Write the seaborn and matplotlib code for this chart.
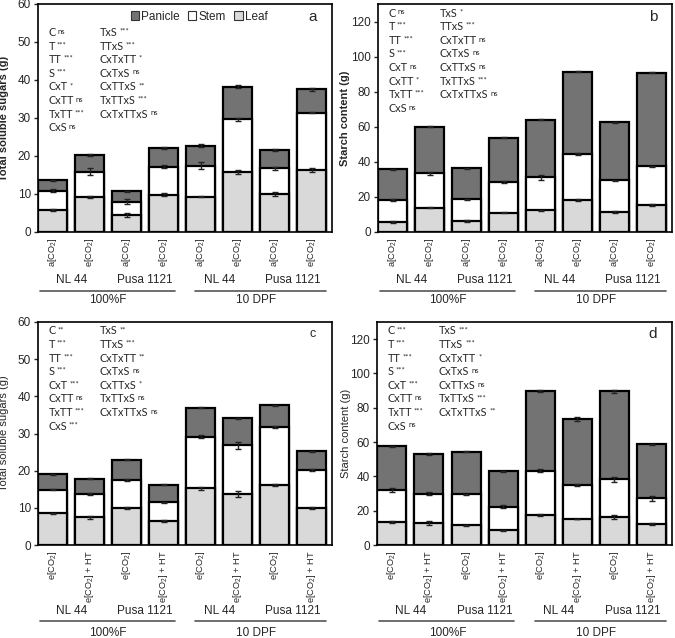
import numpy as np
import pandas as pd
import seaborn as sns
import matplotlib.pyplot as plt
from matplotlib.patches import Patch
from matplotlib.transforms import ScaledTranslation

sns.set_style('ticks')
plt.rcParams['font.family'] = ['Liberation Sans', 'DejaVu Sans']
# tick labels use mathtext for the CO2 subscript
plt.rcParams['mathtext.fontset'] = 'custom'
plt.rcParams['mathtext.rm'] = 'Liberation Sans'
plt.rcParams['mathtext.it'] = 'Liberation Sans:italic'
plt.rcParams['mathtext.bf'] = 'Liberation Sans:bold'

# x labels
labels_top = ['a[CO$_2$]', 'e[CO$_2$]'] * 4
labels_bot = ['e[CO$_2$]', 'e[CO$_2$] + HT'] * 4
cultivars = ['NL 44', 'Pusa 1121', 'NL 44', 'Pusa 1121']
stages = ['100%F', '10 DPF']

# panel a - total soluble sugars
a_leaf = [5.8, 9.3, 4.4, 9.8, 9.3, 15.7, 10.0, 16.3]
a_stem = [5.1, 6.6, 3.6, 7.4, 8.1, 14.0, 6.8, 15.1]
a_pan = [2.7, 4.4, 2.7, 5.0, 5.3, 8.5, 4.8, 6.2]
a_leaf_se = [0.3, 0.3, 0.5, 0.4, 0.2, 0.5, 0.5, 0.5]
a_stem_se = [0.3, 1.0, 0.6, 0.4, 0.9, 0.4, 0.4, 0.2]
a_pan_se = [0.2, 0.2, 0.2, 0.3, 0.4, 0.4, 0.3, 0.4]

# panel b - starch
b_leaf = [5.6, 13.7, 6.2, 10.9, 12.4, 18.2, 11.5, 15.6]
b_stem = [12.6, 19.8, 12.4, 17.7, 18.8, 26.2, 18.0, 22.0]
b_pan = [17.5, 26.5, 17.7, 25.2, 32.9, 47.1, 33.1, 53.2]
b_leaf_se = [0.5, 0.3, 0.4, 0.3, 0.3, 0.6, 0.6, 0.6]
b_stem_se = [0.6, 0.9, 0.5, 0.4, 1.3, 0.5, 0.4, 0.3]
b_pan_se = [0.2, 0.2, 0.2, 0.3, 0.3, 0.2, 0.2, 0.3]

# panel c - total soluble sugars (HT)
c_leaf = [8.5, 7.5, 10.0, 6.5, 15.3, 13.8, 16.1, 10.0]
c_stem = [6.4, 6.2, 7.5, 5.0, 13.8, 13.0, 15.7, 10.2]
c_pan = [4.1, 4.1, 5.5, 4.7, 7.8, 7.3, 5.8, 5.0]
c_leaf_se = [0.2, 0.4, 0.3, 0.2, 0.4, 0.8, 0.2, 0.3]
c_stem_se = [0.2, 0.3, 0.2, 0.2, 0.4, 1.0, 0.2, 0.2]
c_pan_se = [0.1, 0.1, 0.2, 0.1, 0.1, 0.2, 0.1, 0.2]

# panel d - starch (HT)
d_leaf = [13.6, 12.8, 11.5, 8.6, 17.6, 15.1, 16.3, 12.4]
d_stem = [18.5, 17.2, 18.1, 13.8, 25.8, 19.9, 22.1, 14.8]
d_pan = [25.5, 23.0, 24.9, 20.6, 46.3, 38.4, 51.3, 31.5]
d_leaf_se = [0.5, 1.0, 0.3, 0.4, 0.5, 0.2, 1.0, 0.6]
d_stem_se = [1.3, 1.1, 0.3, 0.8, 1.1, 0.5, 1.4, 1.5]
d_pan_se = [0.2, 0.8, 0.2, 0.2, 0.6, 1.0, 0.9, 0.4]

# anova terms
terms1 = ['C', 'T', 'TT', 'S', 'CxT', 'CxTT', 'TxTT', 'CxS']
terms2 = ['TxS', 'TTxS', 'CxTxTT', 'CxTxS', 'CxTTxS', 'TxTTxS', 'CxTxTTxS']
a_sig1 = ['ns', '***', '***', '***', '*', 'ns', '***', 'ns']
a_sig2 = ['***', '***', '*', 'ns', '**', '***', 'ns']
b_sig1 = ['ns', '***', '***', '***', 'ns', '*', '***', 'ns']
b_sig2 = ['*', '***', 'ns', 'ns', 'ns', '***', 'ns']
c_sig1 = ['**', '***', '***', '***', '***', 'ns', '***', '***']
c_sig2 = ['**', '***', '**', 'ns', '*', 'ns', 'ns']
d_sig1 = ['***', '***', '***', '***', '***', 'ns', '***', 'ns']
d_sig2 = ['***', '***', '*', 'ns', 'ns', '***', '**']

PAN = '#737373'
STEM = '#ffffff'
LEAF = '#d9d9d9'
humanist = ['Lato', 'Liberation Sans']

fig = plt.figure(figsize=(6.75, 6.38), dpi=100)


def to_pt(px):
    return px * 0.72


def panel(rect, leaf, stem, pan, leaf_se, stem_se, pan_se, ymax, ystep,
          ylabel, bold, letter, letter_size, xlabels, sig1, sig2,
          txt_top, off_cult, off_line, off_stage, legend=False):
    ax = fig.add_axes(rect)
    df = pd.DataFrame({'pos': np.arange(8), 'leaf': leaf, 'stem': stem, 'pan': pan})
    df['c_leaf'] = df['leaf']
    df['c_stem'] = df['leaf'] + df['stem']
    df['c_pan'] = df['c_stem'] + df['pan']
    for col, colr in [('c_pan', PAN), ('c_stem', STEM), ('c_leaf', LEAF)]:
        sns.barplot(data=df, x='pos', y=col, color=colr, saturation=1,
                    width=0.78, edgecolor='black', linewidth=1.6,
                    errorbar=None, ax=ax, zorder=2)
    for col, se in [('c_leaf', leaf_se), ('c_stem', stem_se), ('c_pan', pan_se)]:
        ax.errorbar(df['pos'], df[col], yerr=se, fmt='none', ecolor='#222222',
                    elinewidth=1, capsize=2, capthick=1, zorder=5)

    ax.set_xlim(-0.4, 7.55)
    ax.set_ylim(0, ymax)
    ax.set_yticks(np.arange(0, ymax + 1, ystep))
    ax.set_xticks(range(8))
    ax.set_xticklabels(xlabels, rotation=90, fontsize=6.7)
    ax.tick_params(axis='x', length=0, pad=4)
    ax.tick_params(axis='y', labelsize=8.5, length=3, width=1, pad=2)
    ax.set_xlabel('')
    ax.set_ylabel(ylabel, fontsize=8, fontweight='bold' if bold else 'normal')
    for s in ax.spines.values():
        s.set_linewidth(1.2)
        s.set_color('black')

    ax.text(0.935, 0.945, letter, transform=ax.transAxes, fontsize=letter_size,
            ha='center', va='center')

    # anova text
    dy = 13.6 / (rect[3] * 638)
    for col_x, terms, sigs in [(0.035, terms1, sig1), (0.21, terms2, sig2)]:
        for i, (t, s) in enumerate(zip(terms, sigs)):
            tx = ax.text(col_x, txt_top - i * dy, t, transform=ax.transAxes,
                         fontsize=7.8, family=humanist, ha='left', va='center')
            ax.annotate(s, xy=(1, 1), xycoords=tx, xytext=(1.5, -0.5),
                        textcoords='offset points', fontsize=5.5, family=humanist,
                        ha='left', va='top')

    # group labels
    xt = ax.get_xaxis_transform()
    for k, name in enumerate(cultivars):
        ax.text(2 * k + 0.5, 0, name, fontsize=8.5, ha='center', va='center',
                transform=xt + ScaledTranslation(0, -off_cult / 72, fig.dpi_scale_trans))
    ltr = xt + ScaledTranslation(0, -off_line / 72, fig.dpi_scale_trans)
    for x0, x1 in [(-0.35, 3.3), (3.85, 7.4)]:
        ax.plot([x0, x1], [0, 0], color='#555555', lw=1.2, transform=ltr, clip_on=False)
    for k, name in enumerate(stages):
        ax.text(4 * k + 1.5, 0, name, fontsize=8.5, ha='center', va='center',
                transform=xt + ScaledTranslation(0, -off_stage / 72, fig.dpi_scale_trans))

    if legend:
        handles = [Patch(facecolor=c, edgecolor='#333333', linewidth=0.8, label=l)
                   for c, l in [(PAN, 'Panicle'), (STEM, 'Stem'), (LEAF, 'Leaf')]]
        ax.legend(handles=handles, loc='center', bbox_to_anchor=(0.548, 0.945), ncol=3,
                  frameon=False, fontsize=8.5, handlelength=0.7, handleheight=0.7,
                  handletextpad=0.2, columnspacing=0.7, borderpad=0)
    return ax


fig_h = 638
fig_w = 675
ra = [38 / fig_w, 1 - 232 / fig_h, 294 / fig_w, 228 / fig_h]
rb = [378 / fig_w, 1 - 232 / fig_h, 294 / fig_w, 228 / fig_h]
rc = [38 / fig_w, 1 - 545 / fig_h, 294 / fig_w, 223 / fig_h]
rd = [377 / fig_w, 1 - 545 / fig_h, 295 / fig_w, 223 / fig_h]

ax_a = panel(ra, a_leaf, a_stem, a_pan, a_leaf_se, a_stem_se, a_pan_se, 60, 10,
             'Total soluble sugars (g)', True, 'a', 11, labels_top, a_sig1, a_sig2,
             0.875, to_pt(48), to_pt(59), to_pt(68), legend=True)
ax_b = panel(rb, b_leaf, b_stem, b_pan, b_leaf_se, b_stem_se, b_pan_se, 130, 20,
             'Starch content (g)', True, 'b', 11, labels_top, b_sig1, b_sig2,
             0.96, to_pt(48), to_pt(59), to_pt(68))
ax_c = panel(rc, c_leaf, c_stem, c_pan, c_leaf_se, c_stem_se, c_pan_se, 60, 10,
             'Total soluble sugars (g)', False, 'c', 9, labels_bot, c_sig1, c_sig2,
             0.96, to_pt(66), to_pt(76), to_pt(88))
ax_d = panel(rd, d_leaf, d_stem, d_pan, d_leaf_se, d_stem_se, d_pan_se, 130, 20,
             'Starch content (g)', False, 'd', 11, labels_bot, d_sig1, d_sig2,
             0.96, to_pt(66), to_pt(76), to_pt(88))

ax_a.yaxis.set_label_coords(-29 / 294, 0.5)
ax_c.yaxis.set_label_coords(-29 / 294, 0.5)
ax_b.yaxis.set_label_coords(-28 / 294, 0.5)
ax_d.yaxis.set_label_coords(-26 / 295, 0.5)

fig.savefig('out.png', dpi=100)
